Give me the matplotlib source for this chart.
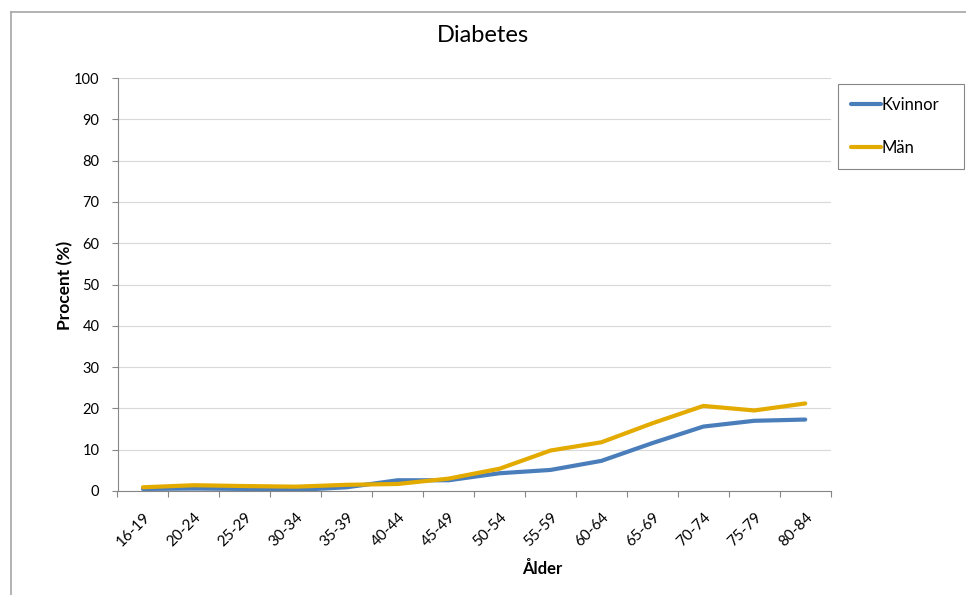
import matplotlib.pyplot as plt
from matplotlib.lines import Line2D

plt.rcParams['font.family'] = ['Lato', 'DejaVu Sans']

# age groups and share with diabetes (%)
ages = ['16-19', '20-24', '25-29', '30-34', '35-39', '40-44', '45-49',
        '50-54', '55-59', '60-64', '65-69', '70-74', '75-79', '80-84']
kvinnor = [0.5, 0.6, 0.5, 0.25, 0.9, 2.6, 2.6, 4.3, 5.1, 7.3, 11.6, 15.6, 17.0, 17.3]
man = [0.9, 1.4, 1.2, 1.05, 1.5, 1.7, 3.0, 5.4, 9.8, 11.8, 16.4, 20.6, 19.5, 21.2]
yticks = list(range(0, 101, 10))

blue = '#4a7ebb'
gold = '#e3aa00'
grey = '#868686'

fig = plt.figure(figsize=(9.66, 5.95), dpi=100)
ax = fig.add_axes([117.5 / 966, 1 - 491 / 595, (830.7 - 117.5) / 966, (491 - 78) / 595])

x = range(len(ages))
ax.plot(x, kvinnor, color=blue, lw=3, solid_capstyle='round', label='Kvinnor')
ax.plot(x, man, color=gold, lw=3, solid_capstyle='round', label='Män')

ax.set_xlim(-0.5, len(ages) - 0.5)
ax.set_ylim(0, 100)
ax.set_yticks(yticks)
ax.yaxis.grid(True, color='#d9d9d9', lw=0.8)
ax.set_axisbelow(True)

ax.set_xticks(list(x))
ax.set_xticklabels(ages, rotation=45, ha='right', va='top', rotation_mode='anchor')
ax.set_xticks([i - 0.5 for i in range(len(ages) + 1)], minor=True)
ax.tick_params(axis='x', which='major', length=0, pad=14, labelsize=11)
ax.tick_params(axis='x', which='minor', length=4, color=grey, width=0.8)
ax.tick_params(axis='y', length=4, color=grey, width=0.8, pad=9, labelsize=10.5)

for s in ['top', 'right']:
    ax.spines[s].set_visible(False)
for s in ['left', 'bottom']:
    ax.spines[s].set_color(grey)
    ax.spines[s].set_linewidth(0.8)

fig.text(483 / 966, 1 - 35 / 595, 'Diabetes', ha='center', va='center', fontsize=17)
fig.text(542 / 966, 1 - 569 / 595, 'Ålder', ha='center', va='center',
         fontsize=12, fontweight='bold')
fig.text(65 / 966, 1 - 285 / 595, 'Procent (%)', ha='center', va='center',
         rotation=90, fontsize=12.5, fontweight='bold')

leg = fig.legend(loc='upper left', bbox_to_anchor=(838 / 966, 1 - 84 / 595 - 0.01, 126 / 966, 0.01),
                 mode='expand', borderaxespad=0, fontsize=12, handlelength=1.75,
                 handletextpad=0.05, labelspacing=1.6, borderpad=0.8,
                 fancybox=False, framealpha=1, edgecolor=grey)
leg.get_frame().set_linewidth(0.8)

# outer chart border (only left and top edges fall inside the image)
fig.add_artist(Line2D([11 / 966, 11 / 966], [0, 1 - 12 / 595], color='#a6a6a6', lw=1.2))
fig.add_artist(Line2D([11 / 966, 1], [1 - 12 / 595, 1 - 12 / 595], color='#a6a6a6', lw=1.2))

fig.savefig('out.png', dpi=100)
